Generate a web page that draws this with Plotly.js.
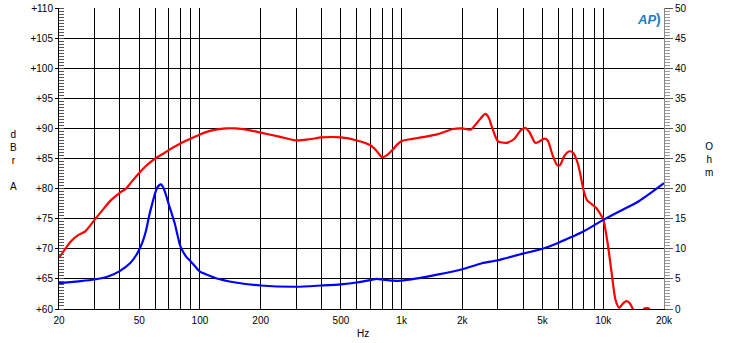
<!DOCTYPE html>
<html>
<head>
<meta charset="utf-8">
<script src="https://cdn.plot.ly/plotly-3.0.1.min.js"></script>
<style>
html,body{margin:0;padding:0;background:#fff;}
#chart{width:730px;height:343px;}
</style>
</head>
<body>
<div id="chart"></div>
<script>
// SPL response (dBrA)
const splFreq = [20,22,23,25,27,30,33,36,40,43,46,50,55,60,65,70,80,90,100,110,120,135,150,170,200,250,300,350,400,500,600,700,750,800,850,900,950,1000,1100,1200,1500,1800,2000,2200,2400,2600,2700,2800,3000,3300,3600,3900,4100,4300,4600,4800,5100,5300,5600,5900,6100,6400,6800,7100,7500,8000,8300,8700,9200,9700,10000,10500,11000,11500,12000,12500,13000,13500,14000,14500,15300,16000,16800,17500,20000];
const splDb = [68.5,70.5,71.3,72.3,72.9,74.8,76.5,78,79.3,80,81.2,82.6,84,85,85.7,86.4,87.5,88.3,89,89.5,89.8,90,90,89.8,89.3,88.6,88,88.2,88.5,88.5,88,87.2,86.3,85.2,85.6,86.4,87.3,87.9,88.2,88.4,89,89.9,90,89.8,91.2,92.4,91.8,90.3,87.9,87.6,88.2,89.7,90.1,89.4,87.6,87.8,88.3,88,85.6,83.9,83.9,85.4,86.2,85.9,84,79.6,78.1,77.5,76.8,75.7,74.9,71,66,61.5,60.2,60.9,61.3,61,60,58.5,58.8,60.1,60.1,58,55];

// Impedance (Ohm)
const impFreq = [20,25,30,35,40,45,48,50,52,54,56,58,60,61.5,63,64,65.5,67,68.5,70,72.5,75,77.5,80,85,90,95,100,110,120,150,200,300,400,500,600,700,750,800,900,1000,1200,1500,2000,2500,3000,4000,5000,6000,7000,8000,10000,12000,15000,20000];
const impOhm = [4.3,4.6,4.9,5.4,6.3,7.6,8.8,9.9,11.2,13,15.5,17.5,19.3,20.2,20.6,20.7,20.3,19.5,18.5,17.4,15.8,14.2,12.2,10.4,8.8,7.9,7,6.2,5.6,5.1,4.4,3.9,3.7,3.9,4.1,4.4,4.8,5.0,4.9,4.7,4.7,5.1,5.7,6.6,7.6,8.1,9.2,10,11,12,12.9,14.8,16.2,17.9,20.9];

// Axis ticks
const gridFreqs = [20,30,40,50,60,70,80,90,100,200,300,400,500,600,700,800,900,1000,2000,3000,4000,5000,6000,7000,8000,9000,10000,20000];
const labelMap = {20:'20',50:'50',100:'100',200:'200',500:'500',1000:'1k',2000:'2k',5000:'5k',10000:'10k',20000:'20k'};
const xTickText = gridFreqs.map(f => labelMap[f] || '');
const dbTicks = [60,65,70,75,80,85,90,95,100,105,110];
const dbTickText = dbTicks.map(v => '+' + v);
const ohmTicks = [0,5,10,15,20,25,30,35,40,45,50];

const W = 730, H = 343;
const L = 59, R = 664, T = 8, B = 309;
const px = x => (x - L) / (R - L);
const py = y => (B - y) / (B - T);

const font = {family: 'Liberation Sans, Arial, sans-serif', size: 10, color: '#000'};

const traces = [
  {x: splFreq, y: splDb, type: 'scatter', mode: 'lines', line: {color: '#ff0000', width: 2.2, shape: 'spline', smoothing: 0.7}, xaxis: 'x', yaxis: 'y', hoverinfo: 'none'},
  {x: impFreq, y: impOhm, type: 'scatter', mode: 'lines', line: {color: '#0000ff', width: 2.2, shape: 'spline', smoothing: 0.7}, xaxis: 'x', yaxis: 'y2', hoverinfo: 'none'}
];

const layout = {
  width: W, height: H,
  margin: {l: L, r: W - R, t: T, b: H - B, pad: 0},
  paper_bgcolor: '#fff', plot_bgcolor: '#fff',
  showlegend: false,
  font: font,
  xaxis: {
    type: 'log', range: [Math.log10(20), Math.log10(20000)],
    tickmode: 'array', tickvals: gridFreqs, ticktext: xTickText,
    showgrid: true, gridcolor: '#000', gridwidth: 1,
    ticks: '', showline: true, linecolor: '#000', linewidth: 1, mirror: false,
    zeroline: false, tickfont: font, ticklabelstandoff: 2
  },
  yaxis: {
    range: [60, 110], tickmode: 'array', tickvals: dbTicks, ticktext: dbTickText,
    showgrid: true, gridcolor: '#000', gridwidth: 1, zeroline: false,
    ticks: 'outside', ticklen: 3, tickcolor: '#000',
    showline: true, linecolor: '#000', linewidth: 1,
    minor: {dtick: 0.5, ticks: 'inside', ticklen: 5, tickcolor: '#555', showgrid: false},
    tickfont: font
  },
  yaxis2: {
    range: [0, 50], overlaying: 'y', side: 'right', anchor: 'x',
    tickmode: 'array', tickvals: ohmTicks,
    showgrid: false, zeroline: false,
    ticks: 'outside', ticklen: 8, tickcolor: '#555',
    showline: true, linecolor: '#888', linewidth: 1,
    minor: {dtick: 0.5, ticks: 'outside', ticklen: 5, tickcolor: '#999', showgrid: false},
    tickfont: font
  },
  annotations: [
    {xref: 'paper', yref: 'paper', x: px(13), y: py(160), text: 'd<br>B<br>r<br>&nbsp;<br>A', showarrow: false, font: font, xanchor: 'center', yanchor: 'middle', align: 'center'},
    {xref: 'paper', yref: 'paper', x: px(709), y: py(159), text: 'O<br>h<br>m', showarrow: false, font: font, xanchor: 'center', yanchor: 'middle', align: 'center'},
    {xref: 'paper', yref: 'paper', x: px(363), y: py(333), text: 'Hz', showarrow: false, font: font, xanchor: 'center', yanchor: 'middle'},
    {xref: 'paper', yref: 'paper', x: px(646), y: py(19), text: '<b><i>AP</i></b>', showarrow: false, font: {family: 'Liberation Sans, Arial, sans-serif', size: 13, color: '#1a7cc4'}, xanchor: 'center', yanchor: 'middle'},
    {xref: 'paper', yref: 'paper', x: px(658), y: py(19), text: '<b>)</b>', showarrow: false, font: {family: 'Liberation Sans, Arial, sans-serif', size: 14, color: '#1a7cc4'}, xanchor: 'center', yanchor: 'middle'}
  ]
};

Plotly.newPlot('chart', traces, layout, {staticPlot: true, displayModeBar: false});
</script>
</body>
</html>
